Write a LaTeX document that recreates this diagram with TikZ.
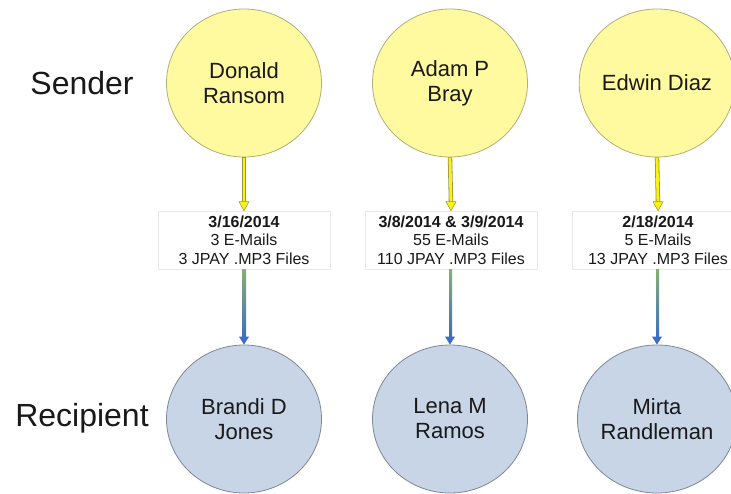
\documentclass[tikz,border=0pt]{standalone}
\usepackage{fontspec}
\setmainfont{Liberation Sans}
\usetikzlibrary{shapes.geometric,calc}
\definecolor{sendfill}{RGB}{255,250,160}
\definecolor{senddraw}{RGB}{175,175,120}
\definecolor{recfill}{RGB}{200,213,230}
\definecolor{recdraw}{RGB}{125,135,150}
\definecolor{arrowyellow}{RGB}{250,242,20}
\definecolor{yedge}{RGB}{150,150,60}
\definecolor{gradtop}{RGB}{135,175,115}
\definecolor{gradbot}{RGB}{60,110,195}
\definecolor{boxedge}{RGB}{232,232,232}
\definecolor{ink}{RGB}{25,25,25}
\begin{document}
\begin{tikzpicture}[x=1pt,y=-1pt,
  person/.style={ellipse, minimum width=155pt, minimum height=148pt, inner sep=0pt, align=center, font=\fontsize{22}{25}\selectfont, text=ink, line width=0.8pt},
  sender/.style={person, fill=sendfill, draw=senddraw},
  recip/.style={person, fill=recfill, draw=recdraw},
  infobox/.style={rectangle, fill=white, draw=boxedge, line width=0.6pt, minimum width=172pt, minimum height=58pt, inner sep=0pt, align=center, font=\fontsize{16}{18.5}\selectfont, text=ink},
  rowlabel/.style={font=\fontsize{32}{36}\selectfont, text=ink},
  yshaftout/.style={line width=4.4pt, draw=yedge},
  yshaftin/.style={line width=2.8pt, draw=arrowyellow},
  yhead/.style={fill=arrowyellow, draw=yedge, line width=0.5pt},
  bhead/.style={fill=gradbot}]
\useasboundingbox (0,0) rectangle (731,493);
\clip (0,0) rectangle (731,493);
\fill[white] (0,0) rectangle (731,493);

\node[rowlabel] (lsend) at (82,83) {Sender};
\node[rowlabel] (lrec) at (82,418) {Recipient};

\node[sender] (s1) at (244,83) {Donald\\Ransom};
\node[sender] (s2) at (450,83) {Adam P\\Bray};
\node[sender] (s3) at (657,83) {Edwin Diaz};

\node[recip] (r1) at (244,419) {Brandi D\\Jones};
\node[recip] (r2) at (450,419) {Lena M\\Ramos};
\node[recip] (r3) at (657,419) {Mirta\\Randleman};

\node[infobox] (l1) at (244,240) {\textbf{3/16/2014}\\3 E-Mails\\3 JPAY .MP3 Files};
\node[infobox] (l2) at (451,240) {\textbf{3/8/2014 \& 3/9/2014}\\55 E-Mails\\110 JPAY .MP3 Files};
\node[infobox] (l3) at (658,240) {\textbf{2/18/2014}\\5 E-Mails\\13 JPAY .MP3 Files};

\foreach \i in {1,2,3}{
  \draw[yshaftout] (s\i.south) -- ($(l\i.north)+(0,-7)$);
  \draw[yshaftin] ($(s\i.south)+(0,0.5)$) -- ($(l\i.north)+(0,-7)$);
  \filldraw[yhead] ($(l\i.north)+(-5,-9)$) -- ($(l\i.north)+(5,-9)$) -- (l\i.north) -- cycle;
  \shade[top color=gradtop, bottom color=gradbot] ($(l\i.south)+(-2,0.3)$) rectangle ($(r\i.north)+(2,-7)$);
  \fill[bhead] ($(r\i.north)+(-5,-8)$) -- ($(r\i.north)+(5,-8)$) -- (r\i.north) -- cycle;
}
\end{tikzpicture}
\end{document}
